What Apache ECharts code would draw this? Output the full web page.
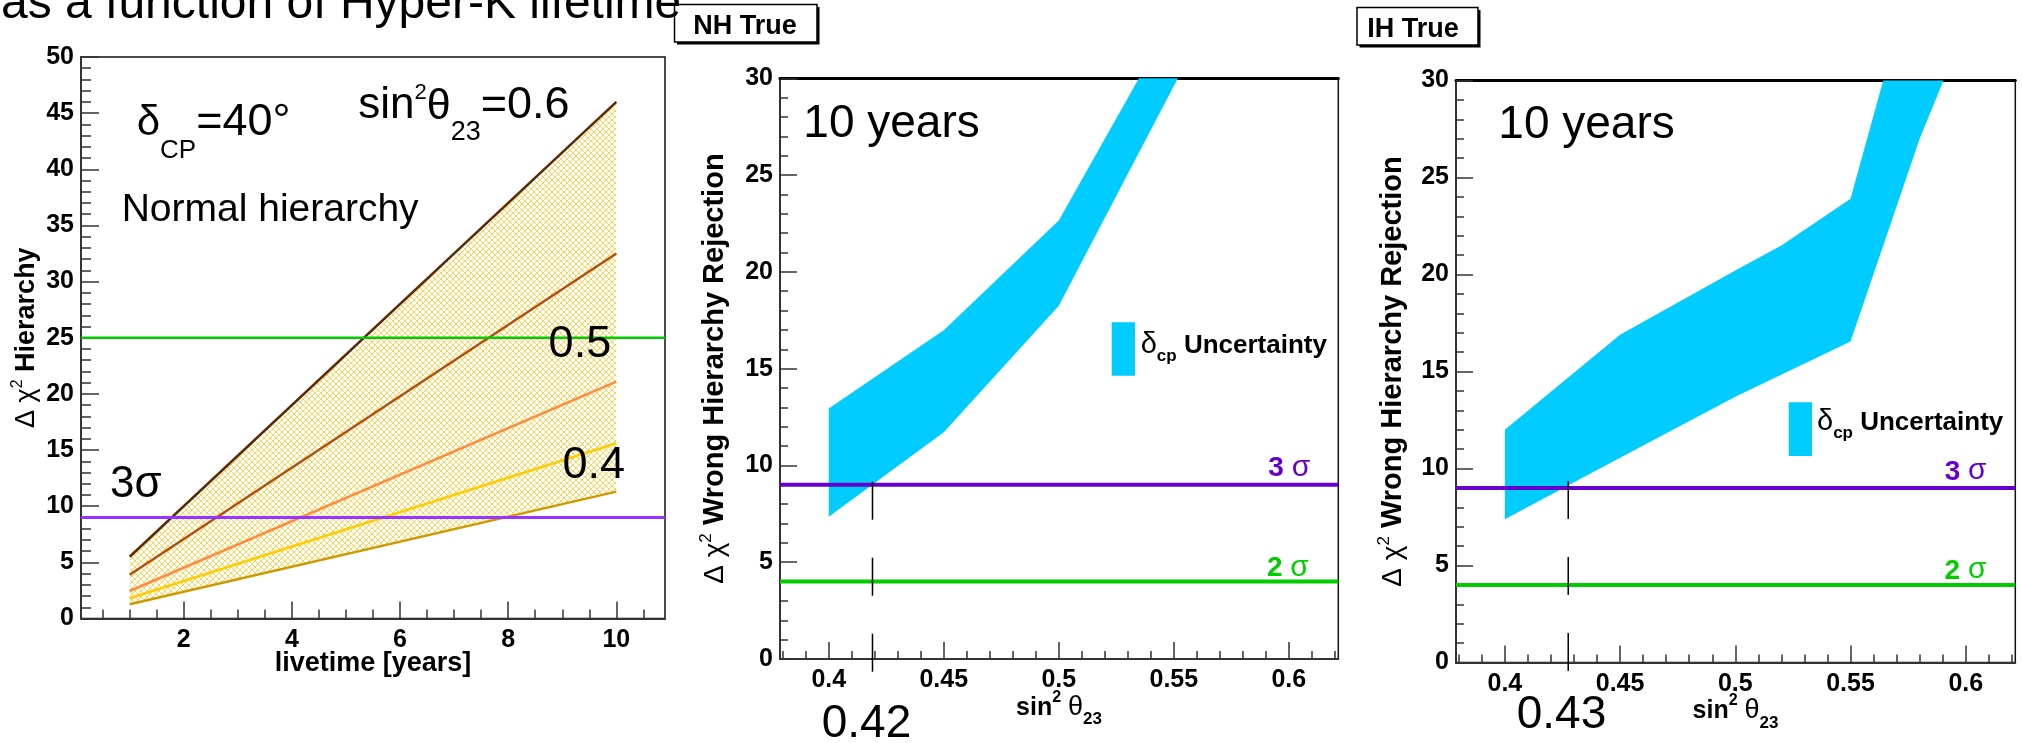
<!DOCTYPE html>
<html>
<head>
<meta charset="utf-8">
<script src="https://cdn.jsdelivr.net/npm/echarts@6/dist/echarts.min.js"></script>
<style>
  html, body { margin: 0; padding: 0; background: #fff; }
  #chart { width: 2022px; height: 743px; }
</style>
</head>
<body>
<div id="chart"></div>
<script>
// ---- panel 1: delta chi2 vs livetime, one line per sin^2 theta23 ----
var livetime = [1, 10];
var hier060 = [5.5, 46.0];
var hier055 = [3.9, 32.5];
var hier050 = [2.45, 21.1];
var hier045 = [1.8, 15.6];
var hier040 = [1.27, 11.3];
var livetimeLabels = [2, 4, 6, 8, 10];
var p1Levels = [25, 9];           // green, purple

// ---- panel 2: NH true, band over delta_cp ----
var nhS23 = [0.40, 0.45, 0.50, 0.55, 0.60];
var nhUpper = [12.94, 16.98, 22.66, 33.2, 44.0];
var nhLower = [7.35, 11.71, 18.25, 29.6, 41.0];
var nhMarkX = 0.419;
var nhMarkY = [9.16, -0.69];

// ---- panel 3: IH true ----
var ihUpperS23 = [0.40, 0.45, 0.50, 0.52, 0.55, 0.60];
var ihUpper = [12.0, 16.9, 20.2, 21.5, 23.9, 45.4];
var ihLowerS23 = [0.40, 0.45, 0.50, 0.55, 0.58, 0.60];
var ihLower = [7.38, 10.55, 13.7, 16.55, 27.0, 32.8];
var ihMarkX = 0.4275;
var ihMarkY = [9.36, -0.5];

var sigmaLevels = [9, 4];          // 3 sigma, 2 sigma
var s23Labels = [0.4, 0.45, 0.5, 0.55, 0.6];

var FONT = "'Liberation Sans', Arial, Helvetica, sans-serif";
var mctx = document.createElement('canvas').getContext('2d');

function range(a, n, d) {
  var out = [];
  for (var i = 0; i < n; i++) out.push(Math.round((a + i * d) * 1000) / 1000);
  return out;
}
function zip(xs, ys) { return xs.map(function (x, i) { return [x, ys[i]]; }); }

// text run: parts = [text, size, weight, dy]; x,y is the baseline start
function run(x, y, parts, o) {
  o = o || {};
  var w = 0, kids = [];
  parts.forEach(function (p) {
    var size = p[1], weight = p[2] || 'normal', dy = p[3] || 0;
    var font = weight + ' ' + size + 'px ' + FONT;
    mctx.font = font;
    kids.push({
      type: 'text', x: w, y: dy - 0.35 * size, z: 100,
      style: { text: p[0], font: font, fill: o.color || '#000',
               align: 'left', verticalAlign: 'middle' }
    });
    w += mctx.measureText(p[0]).width;
  });
  var off = o.align === 'center' ? -w / 2 : (o.align === 'right' ? -w : 0);
  kids.forEach(function (k) { k.x += off; });
  return { type: 'group', x: x, y: y, rotation: o.rotate || 0, silent: true, z: 100, children: kids };
}

function hatch() {
  var c = document.createElement('canvas');
  c.width = 6; c.height = 6;
  var g = c.getContext('2d');
  g.strokeStyle = '#ffcc44';
  g.lineWidth = 0.9;
  g.beginPath();
  g.moveTo(0, 0); g.lineTo(6, 6);
  g.moveTo(6, 0); g.lineTo(0, 6);
  g.stroke();
  return c;
}

function band(ux, uy, lx, ly, fill) {
  return function (params, api) {
    var pts = [];
    for (var i = 0; i < ux.length; i++) pts.push(api.coord([ux[i], uy[i]]));
    for (var j = lx.length - 1; j >= 0; j--) pts.push(api.coord([lx[j], ly[j]]));
    return { type: 'polygon', shape: { points: pts }, style: { fill: fill } };
  };
}

var axisLab = { color: '#000', fontSize: 25, fontWeight: 'bold', fontFamily: FONT };
var tickStyle = { color: '#333', width: 1.5 };

function yAx(grid, max, major, minor) {
  return {
    type: 'value', gridIndex: grid, min: 0, max: max, interval: 5, position: 'left',
    axisLine: { show: true, lineStyle: { color: '#333', width: 2 } },
    axisTick: { show: true, inside: true, length: major, lineStyle: tickStyle },
    minorTick: { show: true, splitNumber: 5, length: minor, lineStyle: tickStyle },
    axisLabel: Object.assign({ margin: 7 }, axisLab),
    splitLine: { show: false }
  };
}
function xMinor(grid, min, max, ticks, len) {
  return {
    type: 'value', gridIndex: grid, min: min, max: max, position: 'bottom',
    axisLine: { show: true, onZero: false, lineStyle: { color: '#333', width: 2 } },
    axisTick: { show: true, inside: true, length: len, customValues: ticks, lineStyle: tickStyle },
    axisLabel: { show: false }, splitLine: { show: false }
  };
}
function xMajor(grid, min, max, ticks, len) {
  return {
    type: 'value', gridIndex: grid, min: min, max: max, position: 'bottom',
    axisLine: { show: false, onZero: false },
    axisTick: { show: true, inside: true, length: len, customValues: ticks, lineStyle: tickStyle },
    axisLabel: Object.assign({ margin: 9, customValues: ticks }, axisLab),
    splitLine: { show: false }
  };
}
function xTop(grid, min, max, w) {
  return {
    type: 'value', gridIndex: grid, min: min, max: max, position: 'top',
    axisLine: { show: true, onZero: false, lineStyle: { color: '#000', width: w } },
    axisTick: { show: false }, axisLabel: { show: false }, splitLine: { show: false }
  };
}
function hline(xi, yi, xmin, xmax, v, color, w) {
  return { type: 'line', xAxisIndex: xi, yAxisIndex: yi, data: [[xmin, v], [xmax, v]],
           symbol: 'none', silent: true, z: 5, lineStyle: { color: color, width: w } };
}

var X1 = [0.1, 10.9];
var X2 = [0.3788, 0.6215];

var lineColors = ['#5a2a08', '#b0500c', '#ff8c3c', '#ffcc00', '#cc9a00'];
var hierSets = [hier060, hier055, hier050, hier045, hier040];

var series = [];
series.push({
  type: 'custom', xAxisIndex: 0, yAxisIndex: 0, clip: true, silent: true, z: 1,
  data: [[livetime[0], hier040[0]]],
  renderItem: band(livetime, hier060, livetime, hier040, { image: hatch(), repeat: 'repeat' })
});
hierSets.forEach(function (arr, i) {
  series.push({ type: 'line', xAxisIndex: 0, yAxisIndex: 0, data: zip(livetime, arr),
                symbol: 'none', silent: true, z: 3, lineStyle: { color: lineColors[i], width: 2.5 } });
});
series.push(hline(0, 0, X1[0], X1[1], p1Levels[0], '#00cc00', 2.5));
series.push(hline(0, 0, X1[0], X1[1], p1Levels[1], '#9933ff', 3));

// NH
series.push({
  type: 'custom', xAxisIndex: 2, yAxisIndex: 1, clip: true, silent: true, z: 1,
  data: [[nhS23[0], nhLower[0]]],
  renderItem: band(nhS23, nhUpper, nhS23, nhLower, '#00ccff')
});
series.push(hline(2, 1, X2[0], X2[1], sigmaLevels[0], '#6600cc', 4));
series.push(hline(2, 1, X2[0], X2[1], sigmaLevels[1], '#00cc00', 4));
series.push({ type: 'line', xAxisIndex: 2, yAxisIndex: 1, clip: false, symbol: 'none', silent: true, z: 6,
              data: [[nhMarkX, nhMarkY[0]], [nhMarkX, nhMarkY[1]]],
              lineStyle: { color: '#000', width: 1.5, type: [38, 38] } });

// IH
series.push({
  type: 'custom', xAxisIndex: 5, yAxisIndex: 2, clip: true, silent: true, z: 1,
  data: [[ihLowerS23[0], ihLower[0]]],
  renderItem: band(ihUpperS23, ihUpper, ihLowerS23, ihLower, '#00ccff')
});
series.push(hline(5, 2, X2[0], X2[1], sigmaLevels[0], '#6600cc', 4));
series.push(hline(5, 2, X2[0], X2[1], sigmaLevels[1], '#00cc00', 4));
series.push({ type: 'line', xAxisIndex: 5, yAxisIndex: 2, clip: false, symbol: 'none', silent: true, z: 6,
              data: [[ihMarkX, ihMarkY[0]], [ihMarkX, ihMarkY[1]]],
              lineStyle: { color: '#000', width: 1.5, type: [38, 38] } });

var gridBase = { show: true, borderColor: '#111', borderWidth: 1.5, backgroundColor: 'transparent', containLabel: false };

var graphics = [
  // slide title, partly cut off
  run(1, 21.5, [['as a function of Hyper-K lifetime', 48]]),
  // NH True box
  { type: 'rect', z: 90, silent: true, shape: { x: 677, y: 7, width: 142.5, height: 37.5 }, style: { fill: '#000' } },
  { type: 'rect', z: 91, silent: true, shape: { x: 674.5, y: 4.5, width: 142.5, height: 37.5 }, style: { fill: '#fff', stroke: '#000', lineWidth: 1.5 } },
  run(745, 36, [['NH True', 27, 'bold']], { align: 'center' }),
  // IH True box
  { type: 'rect', z: 90, silent: true, shape: { x: 1359.5, y: 10, width: 121, height: 37.5 }, style: { fill: '#000' } },
  { type: 'rect', z: 91, silent: true, shape: { x: 1357, y: 7.5, width: 121, height: 37.5 }, style: { fill: '#fff', stroke: '#000', lineWidth: 1.5 } },
  run(1413, 39, [['IH True', 27, 'bold']], { align: 'center' }),

  // panel 1 texts
  run(136.7, 138.3, [['\u03b4', 42], ['CP', 26, 'normal', 22], ['=40\u00b0', 45]]),
  run(358.3, 121.7, [['sin', 44], ['2', 22, 'normal', -21], ['\u03b8', 43], ['23', 27, 'normal', 20], ['=0.6', 45]]),
  run(121.7, 224, [['Normal hierarchy', 39]]),
  run(548.6, 360, [['0.5', 45]]),
  run(562.4, 481, [['0.4', 45]]),
  run(110, 500.5, [['3\u03c3', 44]]),
  run(36, 337.7, [['\u0394 ', 27], ['\u03c7', 27], ['2', 16, 'normal', -13], [' Hierarchy', 27, 'bold']], { align: 'center', rotate: Math.PI / 2 }),
  run(373, 673, [['livetime [years]', 27, 'bold']], { align: 'center' }),

  // panel 2 texts
  run(803.3, 140.7, [['10 years', 46]]),
  { type: 'rect', z: 90, silent: true, shape: { x: 1111.7, y: 322.3, width: 23.3, height: 53.4 }, style: { fill: '#00ccff' } },
  run(1140.7, 355, [['\u03b4', 29], ['cp', 17, 'bold', 7], [' Uncertainty', 26, 'bold']]),
  run(1268.3, 478.3, [['3', 28, 'bold'], [' ', 28], ['\u03c3', 30]], { color: '#6600cc' }),
  run(1267, 578.2, [['2', 28, 'bold'], [' ', 28], ['\u03c3', 30]], { color: '#00cc00' }),
  run(821.7, 740, [['0.42', 46]]),
  run(725, 368.6, [['\u0394 ', 28], ['\u03c7', 28], ['2', 17, 'normal', -13], [' Wrong Hierarchy Rejection', 29, 'bold']], { align: 'center', rotate: Math.PI / 2 }),
  run(1059, 716.7, [['sin', 25, 'bold'], ['2', 16, 'bold', -14], [' ', 25, 'bold'], ['\u03b8', 27], ['23', 17, 'bold', 9]], { align: 'center' }),

  // panel 3 texts
  run(1498.3, 141.7, [['10 years', 46]]),
  { type: 'rect', z: 90, silent: true, shape: { x: 1788.7, y: 402.3, width: 23.3, height: 53.7 }, style: { fill: '#00ccff' } },
  run(1817, 432.3, [['\u03b4', 29], ['cp', 17, 'bold', 7], [' Uncertainty', 26, 'bold']]),
  run(1944.7, 481.7, [['3', 28, 'bold'], [' ', 28], ['\u03c3', 30]], { color: '#6600cc' }),
  run(1944.6, 580.6, [['2', 28, 'bold'], [' ', 28], ['\u03c3', 30]], { color: '#00cc00' }),
  run(1516.7, 731.7, [['0.43', 46]]),
  run(1403, 371.5, [['\u0394 ', 28], ['\u03c7', 28], ['2', 17, 'normal', -13], [' Wrong Hierarchy Rejection', 29, 'bold']], { align: 'center', rotate: Math.PI / 2 }),
  run(1735.5, 720, [['sin', 25, 'bold'], ['2', 16, 'bold', -14], [' ', 25, 'bold'], ['\u03b8', 27], ['23', 17, 'bold', 9]], { align: 'center' })
];

var chart = echarts.init(document.getElementById('chart'));
chart.setOption({
  animation: false,
  backgroundColor: '#fff',
  grid: [
    Object.assign({ left: 81, top: 57, width: 584, height: 561.5 }, gridBase),
    Object.assign({ left: 780, top: 78.3, width: 558.3, height: 580.7 }, gridBase),
    Object.assign({ left: 1456, top: 80.5, width: 559.3, height: 582 }, gridBase)
  ],
  xAxis: [
    xMinor(0, X1[0], X1[1], range(0.5, 21, 0.5), 9),
    xMajor(0, X1[0], X1[1], livetimeLabels, 17),
    xMinor(1, X2[0], X2[1], range(0.38, 25, 0.01), 8),
    xMajor(1, X2[0], X2[1], s23Labels, 17),
    xTop(1, X2[0], X2[1], 3),
    xMinor(2, X2[0], X2[1], range(0.38, 25, 0.01), 8),
    xMajor(2, X2[0], X2[1], s23Labels, 17),
    xTop(2, X2[0], X2[1], 3)
  ],
  yAxis: [
    yAx(0, 50, 18, 10),
    yAx(1, 30, 17, 8),
    yAx(2, 30, 17, 8)
  ],
  series: series,
  graphic: { elements: graphics }
});
</script>
</body>
</html>
